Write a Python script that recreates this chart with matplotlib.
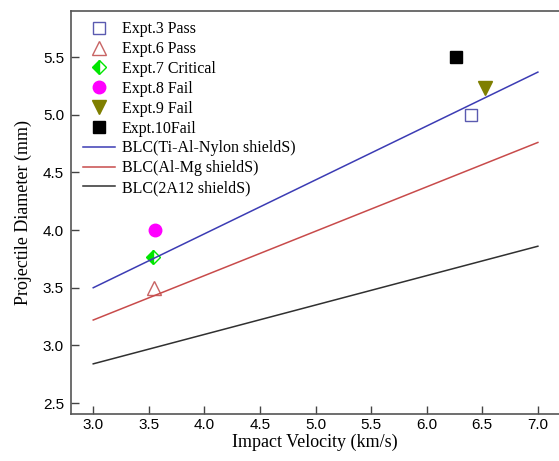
import matplotlib
matplotlib.use("Agg")
import matplotlib.pyplot as plt

# Data
expt_labels = ["Expt.3 Pass", "Expt.6 Pass", "Expt.7 Critical", "Expt.8 Fail", "Expt.9 Fail", "Expt.10Fail"]
expt_v = [6.40, 3.55, 3.54, 3.56, 6.52, 6.26]
expt_d = [5.00, 3.50, 3.77, 4.00, 5.23, 5.50]

line_labels = ["BLC(Ti-Al-Nylon shieldS)", "BLC(Al-Mg shieldS)", "BLC(2A12 shieldS)"]
line_v = [3.0, 7.0]
blc_ti = [3.50, 5.37]
blc_almg = [3.22, 4.76]
blc_2a12 = [2.84, 3.86]

xticks = [3.0, 3.5, 4.0, 4.5, 5.0, 5.5, 6.0, 6.5, 7.0]
yticks = [2.5, 3.0, 3.5, 4.0, 4.5, 5.0, 5.5]

fig = plt.figure(figsize=(5.59, 4.61), dpi=100)
ax = fig.add_axes([71/559, 47/461, 488/559, 403/461])

serif = "Liberation Serif"
sans = "Liberation Sans"

styles = [
    dict(marker="s", mfc="none", mec="#5a5ab0", ms=8.5, mew=1.0),
    dict(marker="^", mfc="none", mec="#c86464", ms=10, mew=1.0),
    dict(marker="D", mfc="#00e600", mec="#00e600", ms=7.5, mew=1.0, fillstyle="left", markerfacecoloralt="white"),
    dict(marker="o", mfc="#ff00ff", mec="#ff00ff", ms=9, mew=1.0),
    dict(marker="v", mfc="#7f7f00", mec="#7f7f00", ms=10, mew=1.0),
    dict(marker="s", mfc="black", mec="black", ms=8, mew=1.0),
]

handles = []
for v, d, lab, st in zip(expt_v, expt_d, expt_labels, styles):
    h, = ax.plot([v], [d], linestyle="none", label=lab, **st)
    handles.append(h)

for ys, lab, c in zip([blc_ti, blc_almg, blc_2a12], line_labels, ["#3c3cb4", "#c84b4b", "#303030"]):
    h, = ax.plot(line_v, ys, color=c, lw=1.1, label=lab)
    handles.append(h)

ax.set_xlim(2.80, 7.19)
ax.set_ylim(2.405, 5.9)
ax.set_xticks(xticks)
ax.set_yticks(yticks)
ax.set_xticklabels([f"{t:.1f}" for t in xticks], fontfamily=sans, fontsize=11)
ax.set_yticklabels([f"{t:.1f}" for t in yticks], fontfamily=sans, fontsize=11)
ax.tick_params(direction="in", length=6, width=1.0, color="#444444")
ax.tick_params(axis="x", pad=3)
ax.tick_params(axis="y", pad=5)
for s in ["left", "top", "bottom"]:
    ax.spines[s].set_color("#555555")
    ax.spines[s].set_linewidth(1.2)
ax.spines["right"].set_visible(False)

ax.set_xlabel("Impact Velocity (km/s)", fontfamily=serif, fontsize=13, labelpad=1)
ax.set_ylabel("Projectile Diameter (mm)", fontfamily=serif, fontsize=13, labelpad=8)

leg = ax.legend(handles=handles, loc="upper left", frameon=False,
                prop={"family": serif, "size": 11.5}, handlelength=2.0,
                labelspacing=0.24, handletextpad=0.4, borderaxespad=0.25,
                bbox_to_anchor=(0.004, 1.0))

fig.savefig("out.png", dpi=100)
